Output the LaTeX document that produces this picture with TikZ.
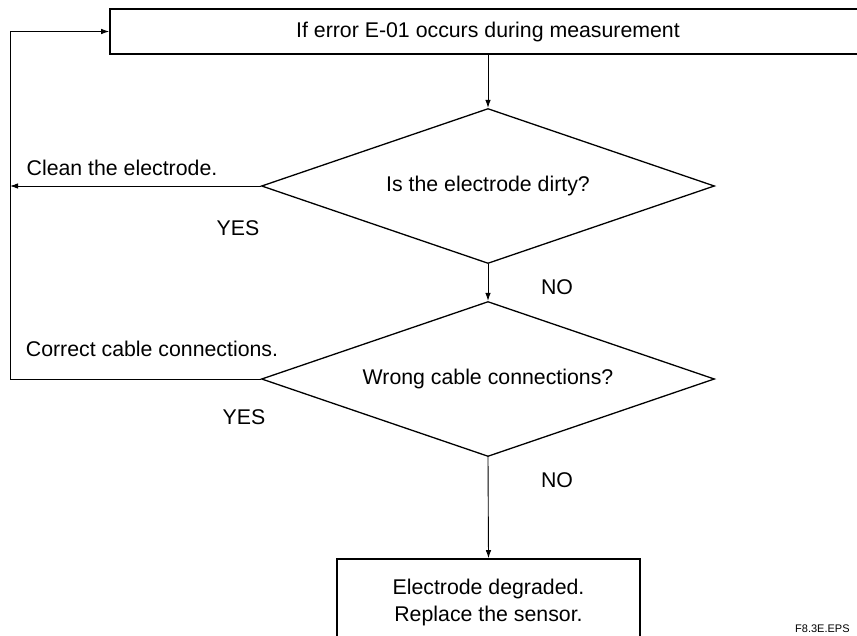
\documentclass[tikz,border=0pt]{standalone}
\usepackage{fontspec}
\setmainfont{Liberation Sans}
\usetikzlibrary{shapes.geometric,arrows.meta}

\tikzset{
	flowbox/.style={draw, line width=1.6pt, minimum width=756pt, minimum height=45pt, inner sep=0pt},
	endbox/.style={draw, line width=1.6pt, minimum width=303pt, minimum height=86pt, align=center, inner sep=0pt},
	decision/.style={draw, diamond, line width=1.3pt, aspect=2.9, minimum width=453pt, minimum height=155pt, inner sep=0pt},
	lbl/.style={inner sep=0pt},
	link/.style={line width=0.9pt, -{Latex[length=8pt,width=5.5pt]}},
}

\begin{document}
\begin{tikzpicture}[x=1pt, y=-1pt, font=\fontsize{21.3}{27}\selectfont]
	\clip (0, 0) rectangle (857, 635);
	\node [flowbox] (start) at (488, 31.5) {If error E-01 occurs during measurement};
	\node [decision] (dirty) at (488, 186) {Is the electrode dirty?};
	\node [decision] (wrong) at (488, 379) {Wrong cable connections?};
	\node [endbox] (replace) at (488.5, 602) {Electrode degraded.\\Replace the sensor.};
	\coordinate (loop) at (10, 0);

	\draw [link] (start.south) -- (dirty.north);
	\draw [link] (dirty.south) -- (wrong.north);
	\draw [link] (wrong.south) -- (replace.north);
	\draw [link] (dirty.west) -- (dirty.west -| loop);
	\draw [link] (wrong.west) -- (wrong.west -| loop) |- (start.west);

	\node [lbl] (clean) at (122, 168) {Clean the electrode.};
	\node [lbl] (yes1) at (238, 228) {YES};
	\node [lbl] (no1) at (557, 287) {NO};
	\node [lbl] (correct) at (152, 349) {Correct cable connections.};
	\node [lbl] (yes2) at (244, 417) {YES};
	\node [lbl] (no2) at (557, 480) {NO};
	\node [lbl, anchor=base west, font=\fontsize{11}{13}\selectfont] (fig) at (795, 632) {F8.3E.EPS};
\end{tikzpicture}
\end{document}
